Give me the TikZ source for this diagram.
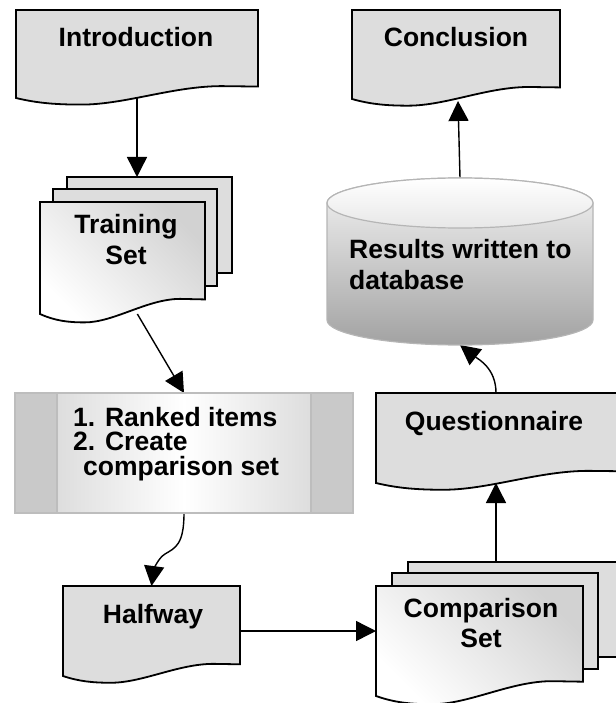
\documentclass[tikz,border=0pt]{standalone}
\usepackage{fontspec}
\setmainfont{Liberation Sans}
\usetikzlibrary{arrows.meta,calc}

\definecolor{docgray}{HTML}{DDDDDD}
\definecolor{docdark}{HTML}{D2D2D2}
\definecolor{procside}{HTML}{C9C9C9}
\definecolor{procedge}{HTML}{D2D2D2}
\definecolor{procline}{HTML}{BDBDBD}
\definecolor{cylline}{HTML}{B5B5B5}
\definecolor{cyllight}{HTML}{F4F4F4}
\definecolor{cyldark}{HTML}{A2A2A2}

\pgfdeclarelayer{background}
\pgfsetlayers{background,main}

% Flow-chart "document" outline over the rectangle of node #2:
% flat top, wavy bottom edge (trough on the left, crest on the right).
\newcommand\docoutline[2]{%
  \path[#1] let \p1=(#2.north west), \p2=(#2.south east),
      \n1={\x2-\x1}, \n2={\y1-\y2} in
    (\x1,\y1) -- (\x2,\y1) -- (\x2,{\y2+0.13*\n2})
    -- ({\x1+0.85*\n1},{\y2+0.135*\n2})
    .. controls ({\x1+0.65*\n1},{\y2+0.135*\n2}) and ({\x1+0.45*\n1},{\y2-0.075*\n2})
    .. ({\x1+0.27*\n1},{\y2-0.075*\n2})
    .. controls ({\x1+0.17*\n1},{\y2-0.075*\n2}) and ({\x1+0.09*\n1},{\y2-0.06*\n2})
    .. (\x1,\y2) -- cycle;%
}

\begin{document}
\begin{tikzpicture}[x=1pt,y=-1pt,
  shapebox/.style={rectangle, draw=none, inner sep=0pt, outer sep=0pt},
  docflat/.style={draw=black, line width=1.8pt, fill=docgray},
  docshade/.style={draw=black, line width=1.8pt, top color=docdark, bottom color=white, shading angle=-45},
  txt/.style={font=\fontsize{26.5}{31}\selectfont\bfseries, inner sep=0pt, align=center},
  conn/.style={line width=1.4pt, -{Triangle[length=20pt,width=20pt]}},
]
\useasboundingbox (0,0) rectangle (615,703);

% ---- shape frames ----
\node[shapebox, minimum width=242, minimum height=88]  (intro) at (137,54) {};
\node[shapebox, minimum width=208, minimum height=89]  (concl) at (456,54.5) {};
\node[shapebox, minimum width=165, minimum height=96]  (trainb) at (149.5,225) {};
\node[shapebox, minimum width=164, minimum height=97]  (trainm) at (135,237.5) {};
\node[shapebox, minimum width=165, minimum height=112] (trainf) at (122.5,258) {};
\node[shapebox, minimum width=338, minimum height=120] (proc) at (184,453) {};
\node[shapebox, minimum width=177, minimum height=90]  (hw) at (151.5,631) {};
\node[shapebox, minimum width=215, minimum height=95]  (compb) at (515.5,609.5) {};
\node[shapebox, minimum width=206, minimum height=96]  (compm) at (495,621) {};
\node[shapebox, minimum width=207, minimum height=110] (compf) at (479.5,641) {};
\node[shapebox, minimum width=250, minimum height=90]  (quest) at (501,438) {};
\node[shapebox, minimum width=266, minimum height=167] (db) at (460,261.5) {};

% ---- documents ----
\docoutline{docflat}{intro}
\docoutline{docflat}{concl}
\docoutline{docflat}{hw}
\docoutline{docflat}{quest}

% stacked documents
\path[docflat] (trainb.north west) rectangle (trainb.south east);
\path[docflat] (trainm.north west) rectangle (trainm.south east);
\docoutline{docshade}{trainf}
\path[docflat] (compb.north west) rectangle (compb.south east);
\path[docflat] (compm.north west) rectangle (compm.south east);
\docoutline{docshade}{compf}

% ---- predefined process ----
\path[left color=procedge, right color=procedge, middle color=white]
  (proc.north west) rectangle (proc.south east);
\path[fill=procside] (proc.north west) rectangle ($(proc.south west)+(42,0)$);
\path[fill=procside] ($(proc.north east)+(-42,0)$) rectangle (proc.south east);
\draw[procline, line width=1.2pt]
  (proc.north west) rectangle (proc.south east)
  ($(proc.north west)+(42,0)$) -- ($(proc.south west)+(42,0)$)
  ($(proc.north east)+(-42,0)$) -- ($(proc.south east)+(-42,0)$);

% ---- database cylinder ----
\path[draw=cylline, line width=1.2pt, top color=cyllight, bottom color=cyldark]
  ($(db.north west)+(0,25)$) -- ($(db.south west)+(0,-25)$)
  arc[start angle=180, end angle=360, x radius=133pt, y radius=25pt]
  -- ($(db.north east)+(0,25)$)
  arc[start angle=0, end angle=180, x radius=133pt, y radius=25pt] -- cycle;
\path[draw=cylline, line width=1.2pt, top color=white, bottom color=docgray!70]
  ($(db.north)+(0,25)$) ellipse[x radius=133pt, y radius=25pt];

% ---- texts (base anchor = baseline of the last line) ----
\node[txt, anchor=base] (intro-t) at (136,47) {Introduction};
\node[txt, anchor=base] (concl-t) at (456,47) {Conclusion};
\node[txt, anchor=base] (train-t) at (126,264) {Training\\Set};
\node[txt, anchor=base west, align=left, font=\fontsize{26.5}{24.5}\selectfont\bfseries]
  (proc-t) at (73,475) {1. Ranked items\\2. Create\\\hspace*{10pt}comparison set};
\node[txt, anchor=base] (hw-t) at (153,623) {Halfway};
\node[txt, anchor=base, font=\fontsize{26.5}{30}\selectfont\bfseries] (comp-t) at (481,647) {Comparison\\Set};
\node[txt, anchor=base] (quest-t) at (494,430) {Questionnaire};
\node[txt, anchor=base west, align=left] (db-t) at (349,289) {Results written to\\database};

% ---- connectors ----
\begin{pgfonlayer}{background}
\draw[conn] (intro.south) -- (intro.south |- trainb.north);
\draw[conn] ($(trainf.south west)!0.59!(trainf.south east)$) -- (proc.north);
\draw[conn] (proc.south) .. controls +(0,32) and +(10,-6) .. ++(-19,41)
  .. controls +(-7,4) and +(2,-15) .. (hw.north);
\draw[conn] (hw.east) -- (hw.east -| compf.west);
\draw[conn] ($(compb.north -| quest.south)+(-5,0)$) -- ($(quest.south)+(-5,0)$);
\draw[conn] ($(quest.north)+(-5,0)$) .. controls +(0,-25) and +(18,14) .. (db.south);
\draw[conn] (db.north) -- ($(concl.south)+(2,2)$);
\end{pgfonlayer}
\end{tikzpicture}
\end{document}
